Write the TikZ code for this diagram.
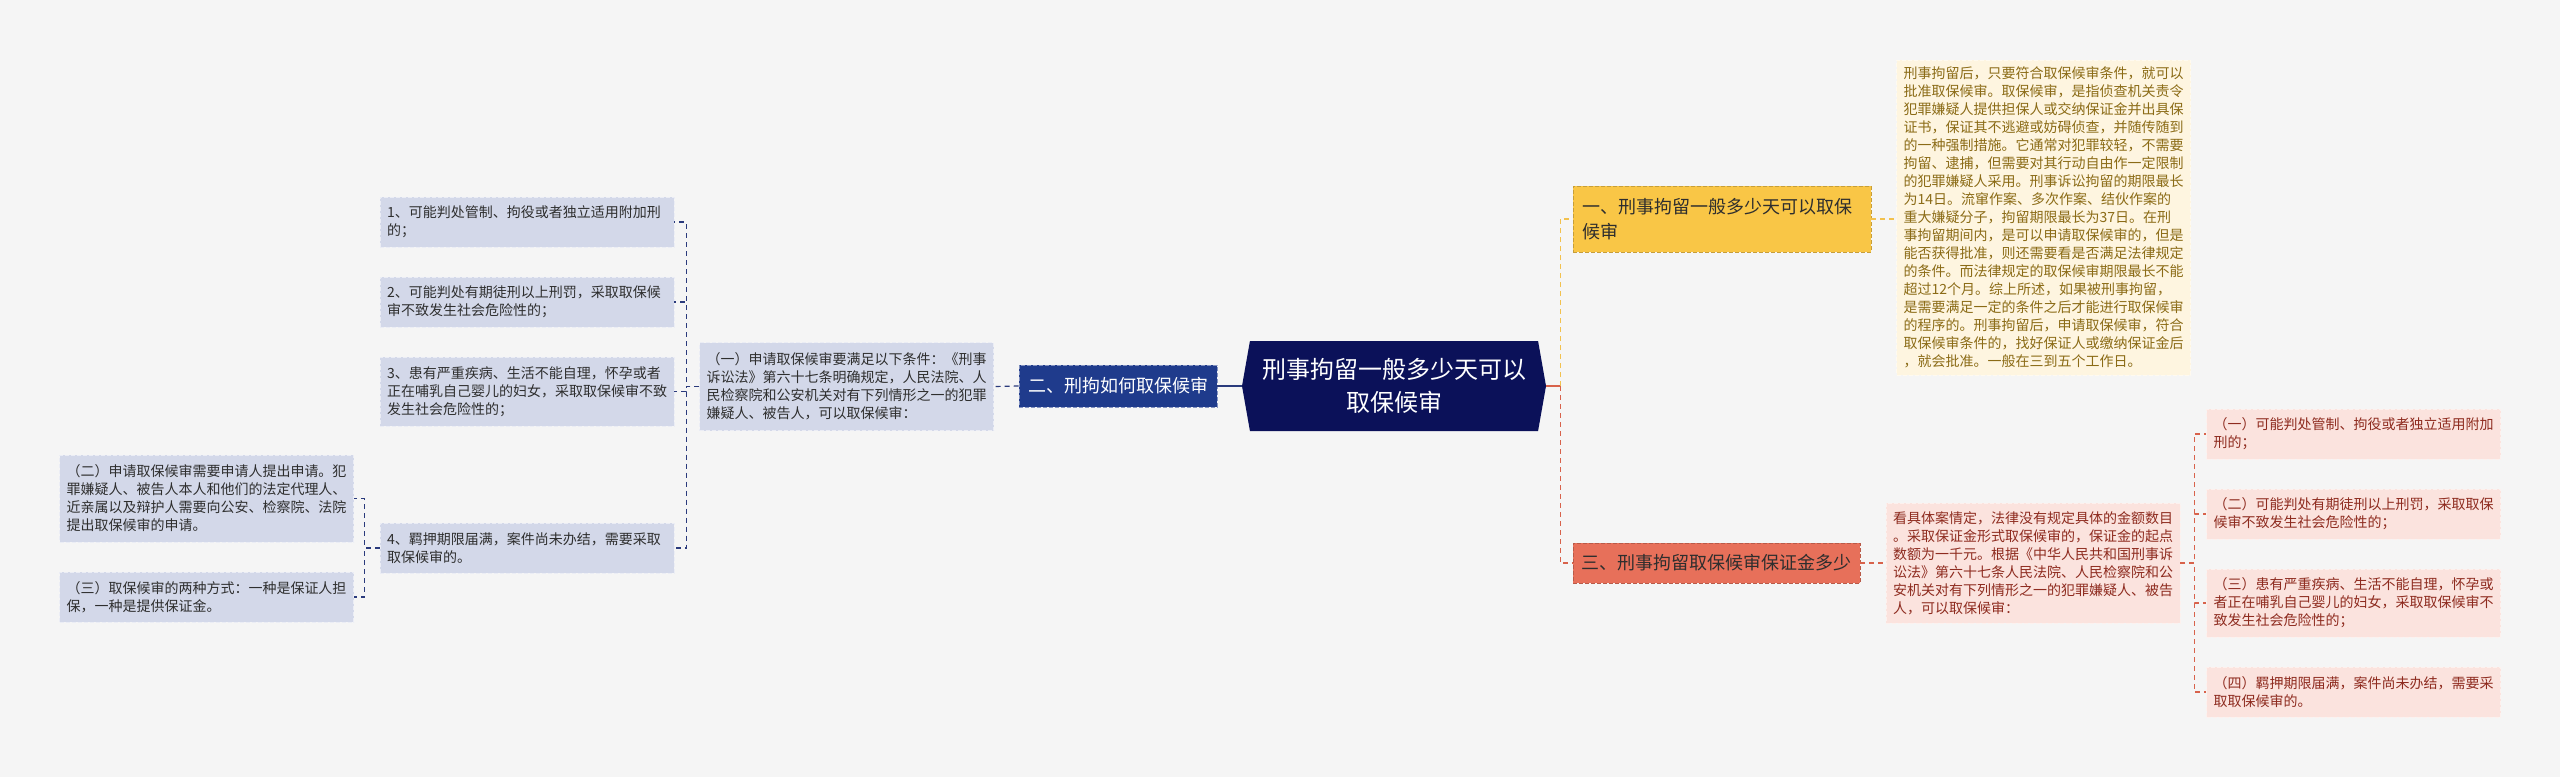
\documentclass[tikz,border=0pt]{standalone}
\usepackage{fontspec}
\setmainfont{Noto Sans CJK SC}
\usepackage{xcolor}
\usetikzlibrary{shapes.symbols}

\definecolor{bgcol}{HTML}{F5F5F5}
\definecolor{rootcol}{HTML}{0B1159}
\definecolor{navycol}{HTML}{1F3B8C}
\definecolor{lavcol}{HTML}{D3D8E9}
\definecolor{bluelink}{HTML}{2A3A7C}
\definecolor{goldcol}{HTML}{F9C646}
\definecolor{creamcol}{HTML}{FEF5E0}
\definecolor{goldtext}{HTML}{8B6B16}
\definecolor{goldlink}{HTML}{F2C14E}
\definecolor{salmoncol}{HTML}{E7705A}
\definecolor{pinkcol}{HTML}{FBE3DE}
\definecolor{redtext}{HTML}{8E2B1F}
\definecolor{redlink}{HTML}{D8624B}
\definecolor{darktext}{HTML}{2E2E2E}

\begin{document}
\begin{tikzpicture}[x=1pt, y=-1pt,
  box/.style={rectangle, inner xsep=7pt, inner ysep=3pt, align=left, text width=280pt, font=\fontsize{14}{18}\selectfont, dash pattern=on 4pt off 2pt, line width=0.6pt},
  leftbox/.style={box, fill=lavcol, draw=white!55!lavcol, text=darktext},
  pinkbox/.style={box, fill=pinkcol, draw=white!50!pinkcol, text=redtext},
  creambox/.style={box, fill=creamcol, draw=white!50!creamcol, text=goldtext},
  branch/.style={rectangle, inner xsep=9pt, inner ysep=3pt, align=left, font=\fontsize{18}{25}\selectfont, dash pattern=on 4pt off 2pt, line width=0.6pt},
  link/.style={line width=1.2pt, dash pattern=on 5pt off 4pt},
  blink/.style={link, draw=bluelink},
  ylink/.style={link, draw=goldlink},
  rlink/.style={link, draw=redlink}
]

% Background
\fill[bgcol] (0,0) rectangle (2560,777);
\useasboundingbox (0,0) rectangle (2560,777);

% Root
\node[signal, signal to=east and west, signal pointer angle=160, fill=rootcol, text=white, align=center, minimum width=304pt, minimum height=90pt, inner sep=0pt, font=\fontsize{24}{33}\selectfont] (root) at (1394,386) {刑事拘留一般多少天可以\\取保候审};

% Left side
\node[branch, fill=navycol, draw=white!45!navycol, text=white, text width=180pt, minimum height=42pt] (b2) at (1118,386) {二、刑拘如何取保候审};
\node[leftbox, minimum height=88pt] (c1) at (846.5,386.5) {（一）申请取保候审要满足以下条件：《刑事\\诉讼法》第六十七条明确规定，人民法院、人\\民检察院和公安机关对有下列情形之一的犯罪\\嫌疑人、被告人，可以取保候审：};

\node[leftbox, minimum height=50pt] (a1) at (527,222) {1、可能判处管制、拘役或者独立适用附加刑\\的；};
\node[leftbox, minimum height=50pt] (a2) at (527,302) {2、可能判处有期徒刑以上刑罚，采取取保候\\审不致发生社会危险性的；};
\node[leftbox, minimum height=69pt] (a3) at (527,391.5) {3、患有严重疾病、生活不能自理，怀孕或者\\正在哺乳自己婴儿的妇女，采取取保候审不致\\发生社会危险性的；};
\node[leftbox, minimum height=50pt] (a4) at (527,548) {4、羁押期限届满，案件尚未办结，需要采取\\取保候审的。};

\node[leftbox, minimum height=87pt] (e2) at (206.5,498.5) {（二）申请取保候审需要申请人提出申请。犯\\罪嫌疑人、被告人本人和他们的法定代理人、\\近亲属以及辩护人需要向公安、检察院、法院\\提出取保候审的申请。};
\node[leftbox, minimum height=50pt] (e3) at (206.5,597) {（三）取保候审的两种方式：一种是保证人担\\保，一种是提供保证金。};

% Right side
\node[branch, fill=goldcol, draw=goldcol!80!black, text=darktext, text width=280pt, minimum height=66pt] (b1) at (1722,219) {一、刑事拘留一般多少天可以取保\\候审};
\node[creambox, minimum height=315pt] (d1) at (2043.5,217.5) {刑事拘留后，只要符合取保候审条件，就可以\\批准取保候审。取保候审，是指侦查机关责令\\犯罪嫌疑人提供担保人或交纳保证金并出具保\\证书，保证其不逃避或妨碍侦查，并随传随到\\的一种强制措施。它通常对犯罪较轻，不需要\\拘留、逮捕，但需要对其行动自由作一定限制\\的犯罪嫌疑人采用。刑事诉讼拘留的期限最长\\为14日。流窜作案、多次作案、结伙作案的\\重大嫌疑分子，拘留期限最长为37日。在刑\\事拘留期间内，是可以申请取保候审的，但是\\能否获得批准，则还需要看是否满足法律规定\\的条件。而法律规定的取保候审期限最长不能\\超过12个月。综上所述，如果被刑事拘留，\\是需要满足一定的条件之后才能进行取保候审\\的程序的。刑事拘留后，申请取保候审，符合\\取保候审条件的，找好保证人或缴纳保证金后\\，就会批准。一般在三到五个工作日。};

\node[branch, fill=salmoncol, draw=salmoncol!80!black, text=darktext, text width=270pt, inner xsep=8.5pt, minimum height=40pt] (b3) at (1716.5,563) {三、刑事拘留取保候审保证金多少};
\node[pinkbox, minimum height=120pt] (d3) at (2033,563) {看具体案情定，法律没有规定具体的金额数目\\。采取保证金形式取保候审的，保证金的起点\\数额为一千元。根据《中华人民共和国刑事诉\\讼法》第六十七条人民法院、人民检察院和公\\安机关对有下列情形之一的犯罪嫌疑人、被告\\人，可以取保候审：};

\node[pinkbox, minimum height=50pt] (r1) at (2353.5,434) {（一）可能判处管制、拘役或者独立适用附加\\刑的；};
\node[pinkbox, minimum height=50pt] (r2) at (2353.5,514) {（二）可能判处有期徒刑以上刑罚，采取取保\\候审不致发生社会危险性的；};
\node[pinkbox, minimum height=68pt] (r3) at (2353.5,603) {（三）患有严重疾病、生活不能自理，怀孕或\\者正在哺乳自己婴儿的妇女，采取取保候审不\\致发生社会危险性的；};
\node[pinkbox, minimum height=50pt] (r4) at (2353.5,692) {（四）羁押期限届满，案件尚未办结，需要采\\取取保候审的。};

% Connections left
\draw[line width=1.2pt, draw=bluelink] (root.west) -- (b2.east);
\draw[blink] (b2.west) -- (c1.east);
\foreach \n in {a1,a2,a3,a4}
  \draw[blink] (c1.west) -- ++(-13,0) |- (\n.east);
\foreach \n in {e2,e3}
  \draw[blink] (a4.west) -- ++(-15,0) |- (\n.east);

% Connections right
\draw[line width=1.2pt, draw=redlink] (root.east) -- ++(14,0) coordinate (fork);
\draw[ylink] (fork) |- (b1.west);
\draw[rlink] (fork) |- (b3.west);
\draw[ylink] (b1.east) -- (b1.east -| d1.west);
\draw[rlink] (b3.east) -- (d3.west);
\foreach \n in {r1,r2,r3,r4}
  \draw[rlink] (d3.east) -- ++(14,0) |- (\n.west);

\end{tikzpicture}
\end{document}
